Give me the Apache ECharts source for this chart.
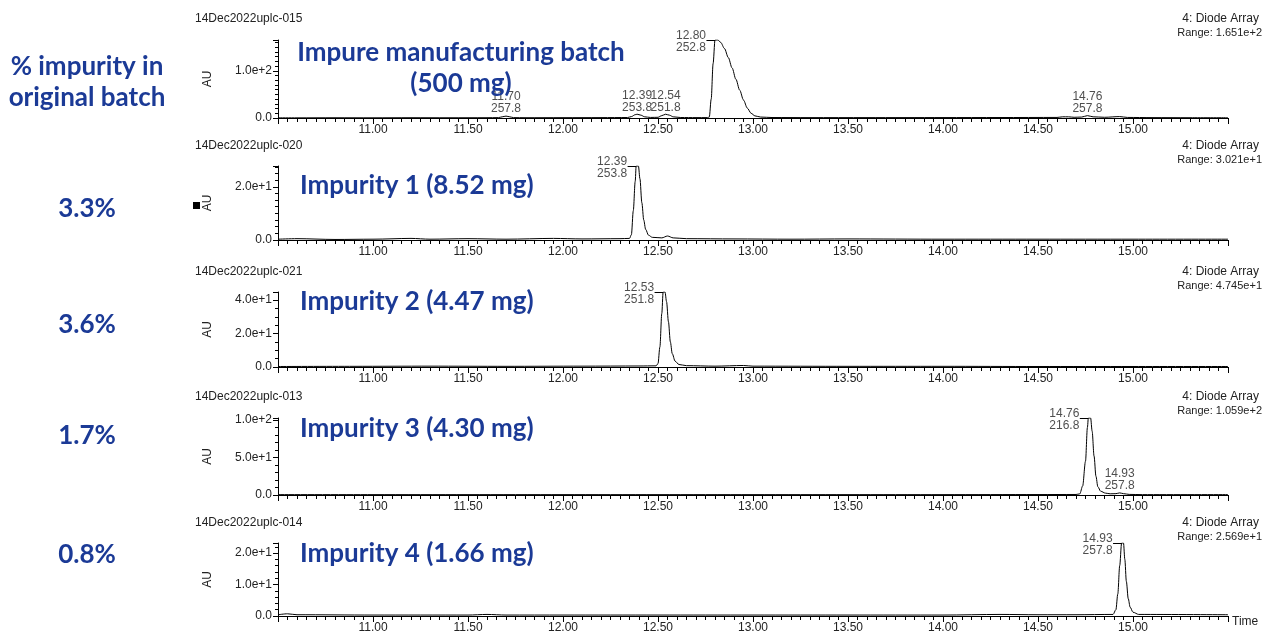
<!DOCTYPE html>
<html>
<head>
<meta charset="utf-8">
<script src="https://cdn.jsdelivr.net/npm/echarts@6/dist/echarts.min.js"></script>
<style>
html,body{margin:0;padding:0;background:#fff;}
#chart{width:1263px;height:636px;}
</style>
</head>
<body>
<div id="chart"></div>
<script>
// ---------- data ----------
const panelIds = ['14Dec2022uplc-015','14Dec2022uplc-020','14Dec2022uplc-021','14Dec2022uplc-013','14Dec2022uplc-014'];
const channelName = '4: Diode Array';
const rangeTexts = ['Range: 1.651e+2','Range: 3.021e+1','Range: 4.745e+1','Range: 1.059e+2','Range: 2.569e+1'];
const sampleNames = [['Impure manufacturing batch','(500 mg)'],['Impurity 1 (8.52 mg)'],['Impurity 2 (4.47 mg)'],['Impurity 3 (4.30 mg)'],['Impurity 4 (1.66 mg)']];
const columnHeader = ['% impurity in','original batch'];
const impurityPercents = ['', '3.3%', '3.6%', '1.7%', '0.8%'];
const yMax = [165.1, 27.8, 44.8, 102.7, 23.2];
const yInterval = [100, 20, 20, 50, 10];
const timeMin = 10.5, timeMax = 15.5, timeInterval = 0.5;

const trace1 = [[10.50,0.3],[10.60,0.3],[10.80,0.5],[11.00,0.4],[11.20,0.6],[11.40,0.5],[11.60,0.6],[11.66,0.8],[11.68,2.5],[11.70,4],[11.72,2.5],[11.74,0.8],[11.80,0.6],[12.00,0.7],[12.20,0.8],[12.34,1.0],[12.36,3],[12.38,7],[12.39,8],[12.41,6],[12.43,2.5],[12.46,1.2],[12.50,1.5],[12.52,5],[12.54,8],[12.56,6],[12.58,2.5],[12.62,1.0],[12.70,0.8],[12.76,0.8],[12.77,2],[12.78,40],[12.79,115],[12.80,165.1],[12.815,165.1],[12.83,160],[12.85,147],[12.87,128],[12.89,106],[12.91,82],[12.93,59],[12.95,38],[12.97,21],[12.99,10],[13.01,4.5],[13.04,2],[13.10,1.0],[13.30,0.8],[13.60,0.8],[14.00,0.9],[14.30,1.0],[14.60,1.2],[14.63,2.5],[14.66,2.5],[14.69,1.5],[14.73,2],[14.76,5],[14.79,2.5],[14.85,1.5],[14.93,3],[14.97,1.2],[15.10,0.8],[15.30,0.6],[15.50,0.5]];
const trace2 = [[10.50,0.3],[10.60,0.5],[10.80,0.2],[11.00,0.3],[11.20,0.6],[11.30,0.3],[11.50,0.5],[11.70,0.3],[11.95,0.6],[12.10,0.4],[12.30,0.5],[12.35,0.6],[12.36,2],[12.37,11],[12.38,22],[12.385,27.8],[12.397,27.8],[12.405,23],[12.415,14],[12.425,7.5],[12.435,4],[12.45,1.8],[12.47,1.0],[12.52,0.8],[12.55,1.5],[12.58,0.8],[12.65,0.5],[12.90,0.4],[13.20,0.3],[13.50,0.4],[14.00,0.3],[14.50,0.3],[15.00,0.3],[15.50,0.3]];
const trace3 = [[10.50,0.3],[10.90,0.4],[11.30,0.5],[11.70,0.4],[12.10,0.5],[12.40,0.6],[12.49,0.7],[12.50,2],[12.51,12],[12.52,32],[12.527,44.8],[12.537,44.8],[12.545,39],[12.555,27],[12.565,15],[12.575,8],[12.59,3.5],[12.61,1.5],[12.65,0.8],[12.80,0.5],[12.95,0.9],[13.00,0.5],[13.50,0.4],[14.00,0.4],[14.50,0.3],[15.00,0.3],[15.50,0.3]];
const trace4 = [[10.50,0.5],[11.00,0.5],[11.50,0.5],[12.00,0.5],[12.50,0.5],[13.00,0.5],[13.50,0.5],[14.00,0.5],[14.50,0.6],[14.70,0.7],[14.72,1.5],[14.735,12],[14.75,45],[14.76,90],[14.765,102.7],[14.777,102.7],[14.785,85],[14.795,52],[14.805,25],[14.815,11],[14.83,5],[14.855,2.5],[14.88,1.6],[14.91,1.8],[14.93,2.8],[14.95,1.8],[14.98,0.8],[15.05,0.5],[15.50,0.5]];
const trace5 = [[10.50,0.4],[10.55,0.7],[10.60,0.4],[11.00,0.3],[11.50,0.3],[11.60,0.5],[11.70,0.3],[12.00,0.3],[12.50,0.3],[13.00,0.3],[13.50,0.3],[14.00,0.3],[14.30,0.5],[14.50,0.4],[14.70,0.4],[14.895,0.5],[14.91,2],[14.92,7],[14.93,16],[14.94,23.2],[14.95,23.2],[14.957,18],[14.965,11],[14.975,5.5],[14.985,2.8],[15.00,1.2],[15.03,0.5],[15.50,0.4]];

// peak annotations: [time, value, label, side]
const peaks1 = [[11.70,4,'11.70\n257.8','top'],[12.39,8,'12.39\n253.8','top'],[12.54,8,'12.54\n251.8','top'],[12.80,165.1,'12.80\n252.8','left'],[14.76,5,'14.76\n257.8','top']];
const peaks2 = [[12.385,27.8,'12.39\n253.8','left']];
const peaks3 = [[12.527,44.8,'12.53\n251.8','left']];
const peaks4 = [[14.765,102.7,'14.76\n216.8','left'],[14.93,2.8,'14.93\n257.8','top']];
const peaks5 = [[14.94,23.2,'14.93\n257.8','left']];

const traces = [trace1, trace2, trace3, trace4, trace5];
const peaks = [peaks1, peaks2, peaks3, peaks4, peaks5];

// ---------- layout ----------
const gridTop = [40, 166, 292, 418, 543];
const gridBase = [118, 240, 367, 495, 616];
const yMinorSplit = [10, 8, 4, 5, 5];
const headerY = [20, 147, 273, 398, 524];
const blue = '#1b3a96';
const smallFont = 'Liberation Sans, Arial, sans-serif';
const bigFont = 'bold 26px Lato, sans-serif';

const grids = [], xAxes = [], yAxes = [], series = [], graphics = [];
function yFmt(v){ return v === 0 ? '0.0' : v.toExponential(1); }

for (let i = 0; i < 5; i++) {
  grids.push({left: 278, width: 950, top: gridTop[i], height: gridBase[i] - gridTop[i]});
  const xa = {
    gridIndex: i, type: 'value', min: timeMin, max: timeMax, interval: timeInterval,
    axisLine: {show: true, onZero: false, lineStyle: {color: '#000', width: 1}},
    axisTick: {show: true, length: 6, lineStyle: {color: '#000'}},
    minorTick: {show: true, splitNumber: 10, length: 4, lineStyle: {color: '#000'}},
    splitLine: {show: false}, minorSplitLine: {show: false},
    axisLabel: {formatter: v => v.toFixed(2), showMinLabel: false, showMaxLabel: false, fontSize: 12, color: '#222', margin: 6, fontFamily: smallFont}
  };
  if (i === 4) {
    xa.name = 'Time'; xa.nameLocation = 'end'; xa.nameGap = 4;
    xa.nameTextStyle = {fontSize: 12, color: '#222', fontFamily: smallFont, verticalAlign: 'top', align: 'left'};
  }
  xAxes.push(xa);
  yAxes.push({
    gridIndex: i, type: 'value', min: 0, max: yMax[i], interval: yInterval[i],
    axisLine: {show: true, lineStyle: {color: '#000', width: 1}},
    axisTick: {show: true, length: 5, lineStyle: {color: '#000'}},
    minorTick: {show: true, splitNumber: yMinorSplit[i], length: 3, lineStyle: {color: '#000'}},
    splitLine: {show: false}, minorSplitLine: {show: false},
    axisLabel: {formatter: yFmt, showMaxLabel: false, fontSize: 12, color: '#222', margin: 6, fontFamily: smallFont},
    name: 'AU', nameLocation: 'middle', nameGap: 64, nameRotate: 90,
    nameTextStyle: {fontSize: 12, color: '#222', fontFamily: smallFont}
  });
  const leaders = peaks[i].filter(p => p[3] === 'left').map(p => [{coord: [p[0] - 0.045, p[1]]}, {coord: [p[0], p[1]]}]);
  series.push({
    type: 'line', xAxisIndex: i, yAxisIndex: i, data: traces[i],
    showSymbol: false, symbol: 'none', smooth: 0.3, smoothMonotone: 'x',
    lineStyle: {color: '#000', width: 1}, animation: false, silent: true,
    markLine: {symbol: ['none', 'none'], silent: true, animation: false, label: {show: false},
      lineStyle: {color: '#000', width: 1, type: 'solid'}, data: leaders}
  });
  series.push({
    type: 'scatter', xAxisIndex: i, yAxisIndex: i, symbolSize: 0, animation: false, silent: true,
    data: peaks[i].map(p => ({
      value: [p[0], p[1]],
      label: p[3] === 'left'
        ? {show: true, position: 'left', distance: 9, formatter: p[2], align: 'right', offset: [0, 1.5]}
        : {show: true, position: 'top', distance: 1, formatter: p[2], align: 'center'}
    })),
    label: {fontSize: 12, lineHeight: 12, color: '#222', fontFamily: smallFont}
  });

  // header texts
  graphics.push({type: 'text', left: 195, top: headerY[i] - 7, style: {text: panelIds[i], font: '12px ' + smallFont, fill: '#222'}});
  graphics.push({type: 'text', right: 4, top: headerY[i] - 7, style: {text: channelName, font: '12px ' + smallFont, fill: '#222'}});
  graphics.push({type: 'text', right: 1, top: headerY[i] + 7, style: {text: rangeTexts[i], font: '11px ' + smallFont, fill: '#222'}});
}

// big blue sample names
const nameY = [[53, 84], [186], [302], [429], [554]];
for (let i = 0; i < 5; i++) {
  sampleNames[i].forEach((t, k) => {
    if (i === 0) {
      graphics.push({type: 'text', z: 100, x: 461, y: nameY[i][k], style: {text: t, font: bigFont, fill: blue, align: 'center', verticalAlign: 'middle'}});
    } else {
      graphics.push({type: 'text', z: 100, x: 300, y: nameY[i][k], style: {text: t, font: bigFont, fill: blue, align: 'left', verticalAlign: 'middle'}});
    }
  });
}
// left column
const colY = [67, 98];
columnHeader.forEach((t, k) => graphics.push({type: 'text', z: 100, x: 87, y: colY[k], style: {text: t, font: bigFont, fill: blue, align: 'center', verticalAlign: 'middle'}}));
const pctY = [0, 209, 325, 436, 555];
impurityPercents.forEach((t, i) => { if (t) graphics.push({type: 'text', z: 100, x: 87, y: pctY[i], style: {text: t, font: bigFont, fill: blue, align: 'center', verticalAlign: 'middle'}}); });
// small black marker beside AU in panel 2
graphics.push({type: 'rect', shape: {x: 193, y: 202, width: 7, height: 7}, style: {fill: '#000'}});

const chart = echarts.init(document.getElementById('chart'), null, {renderer: 'canvas'});
chart.setOption({
  backgroundColor: '#fff',
  animation: false,
  grid: grids, xAxis: xAxes, yAxis: yAxes, series: series, graphic: graphics
});
</script>
</body>
</html>
